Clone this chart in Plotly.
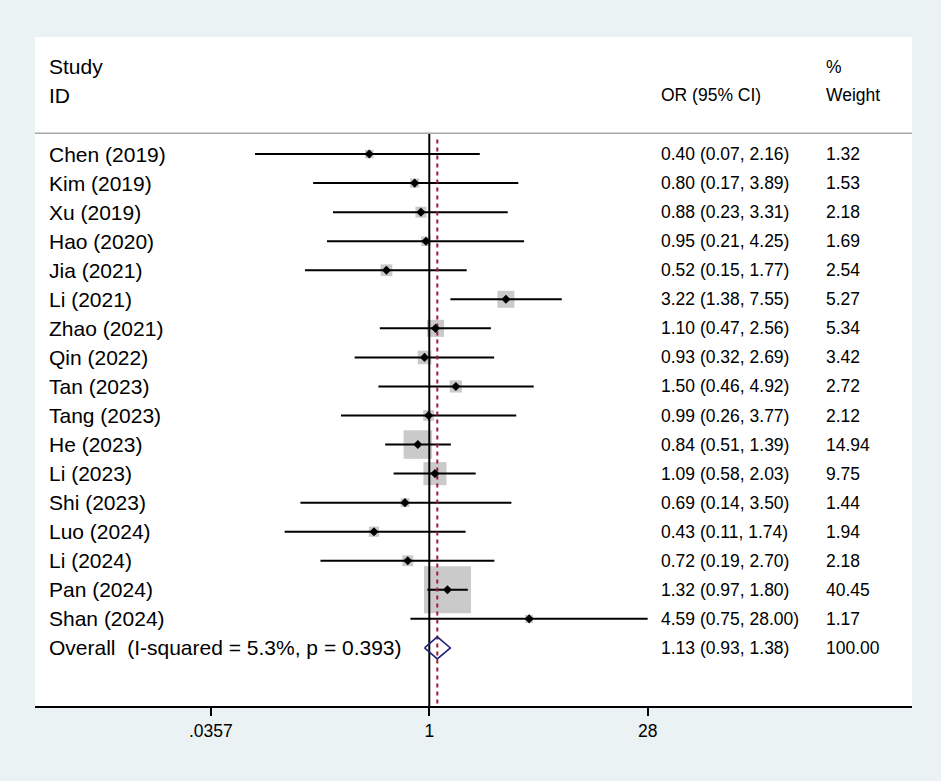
import plotly.graph_objects as go

# Data
studies = ['Chen (2019)', 'Kim (2019)', 'Xu (2019)', 'Hao (2020)', 'Jia (2021)',
           'Li (2021)', 'Zhao (2021)', 'Qin (2022)', 'Tan (2023)', 'Tang (2023)',
           'He (2023)', 'Li (2023)', 'Shi (2023)', 'Luo (2024)', 'Li (2024)',
           'Pan (2024)', 'Shan (2024)']
odds = [0.40, 0.80, 0.88, 0.95, 0.52, 3.22, 1.10, 0.93, 1.50, 0.99,
        0.84, 1.09, 0.69, 0.43, 0.72, 1.32, 4.59]
lower = [0.07, 0.17, 0.23, 0.21, 0.15, 1.38, 0.47, 0.32, 0.46, 0.26,
         0.51, 0.58, 0.14, 0.11, 0.19, 0.97, 0.75]
upper = [2.16, 3.89, 3.31, 4.25, 1.77, 7.55, 2.56, 2.69, 4.92, 3.77,
         1.39, 2.03, 3.50, 1.74, 2.70, 1.80, 28.00]
weights = [1.32, 1.53, 2.18, 1.69, 2.54, 5.27, 5.34, 3.42, 2.72, 2.12,
           14.94, 9.75, 1.44, 1.94, 2.18, 40.45, 1.17]

overall_label = 'Overall  (I-squared = 5.3%, p = 0.393)'
overall_or, overall_lo, overall_hi, overall_w = 1.13, 0.93, 1.38, 100.00

tick_vals = [0.0357, 1, 28]
tick_text = ['.0357', '1', '28']

rows = list(range(len(studies)))
row_overall = len(studies)

FONT = 'Liberation Sans, Arial, sans-serif'
BG = '#EAF2F3'

fig = go.Figure()

# Weight boxes (side proportional to sqrt of weight)
box_sizes = [47 * (w / max(weights)) ** 0.5 for w in weights]
fig.add_trace(go.Scatter(x=odds, y=rows, mode='markers',
                         marker=dict(symbol='square', size=box_sizes, color='#B4B4B4',
                                     line=dict(width=0)),
                         hoverinfo='skip'))

# Confidence intervals
ci_x, ci_y = [], []
for lo, hi, r in zip(lower, upper, rows):
    ci_x += [lo, hi, None]
    ci_y += [r, r, None]
fig.add_trace(go.Scatter(x=ci_x, y=ci_y, mode='lines',
                         line=dict(color='black', width=2), hoverinfo='skip'))

# Null line and overall effect line
fig.add_trace(go.Scatter(x=[1, 1], y=[-0.72, 19.0], mode='lines',
                         line=dict(color='black', width=2), hoverinfo='skip'))
fig.add_trace(go.Scatter(x=[overall_or, overall_or], y=[-0.5, 19.0], mode='lines',
                         line=dict(color='#9E1C32', width=2, dash='4px,4px'),
                         hoverinfo='skip'))

# Point estimates
fig.add_trace(go.Scatter(x=odds, y=rows, mode='markers',
                         marker=dict(symbol='diamond', size=7, color='black'),
                         hovertext=studies, hoverinfo='text+x'))

# Overall diamond
h = 0.38
fig.add_trace(go.Scatter(x=[overall_lo, overall_or, overall_hi, overall_or, overall_lo],
                         y=[row_overall, row_overall - h, row_overall, row_overall + h, row_overall],
                         mode='lines', fill='toself', fillcolor='rgba(255,255,255,0)',
                         line=dict(color='#1F1F7A', width=1.5), hoverinfo='skip'))

# Text columns
ann = []
def txt(x, y, s, size):
    ann.append(dict(x=x, y=y, xref='paper', yref='y', text=s, showarrow=False,
                    xanchor='left', yanchor='middle',
                    font=dict(family=FONT, size=size, color='black')))

x_study, x_or, x_w = 0.0137, 0.7115, 0.8997
txt(x_study, -3.03, 'Study', 21)
txt(x_study, -2.0, 'ID', 21)
txt(x_or, -2.03, 'OR (95% CI)', 17.5)
txt(x_w, -3.0, '%', 17.5)
txt(x_w, -2.03, 'Weight', 17.5)

for s, o, lo, hi, w, r in zip(studies, odds, lower, upper, weights, rows):
    txt(x_study, r, s, 21)
    txt(x_or, r, f'{o:.2f} ({lo:.2f}, {hi:.2f})', 17.5)
    txt(x_w, r, f'{w:.2f}', 17.5)
txt(x_study, row_overall, overall_label, 21)
txt(x_or, row_overall, f'{overall_or:.2f} ({overall_lo:.2f}, {overall_hi:.2f})', 17.5)
txt(x_w, row_overall, f'{overall_w:.2f}', 17.5)

fig.update_layout(
    width=941, height=781, autosize=False,
    margin=dict(l=35, r=29, t=37, b=75),
    paper_bgcolor=BG, plot_bgcolor='white',
    showlegend=False,
    annotations=ann,
    shapes=[dict(type='line', xref='paper', yref='y', x0=0, x1=1, y0=-0.72, y1=-0.72,
                 line=dict(color='#A8A8A8', width=1.5))],
    xaxis=dict(type='log', range=[-2.613, 3.199], tickvals=tick_vals, ticktext=tick_text,
               showline=True, linecolor='black', linewidth=1.5, mirror=False,
               ticks='outside', ticklen=8, tickwidth=1.5, tickcolor='black',
               showgrid=False, zeroline=False,
               tickfont=dict(family=FONT, size=17.5, color='black')),
    yaxis=dict(range=[19.0, -4.03], visible=False, showgrid=False, zeroline=False),
)

fig.write_html('out.html', config={'displayModeBar': False},
               post_script="document.body.style.margin='0';"
                           "document.body.style.background='" + BG + "';")
